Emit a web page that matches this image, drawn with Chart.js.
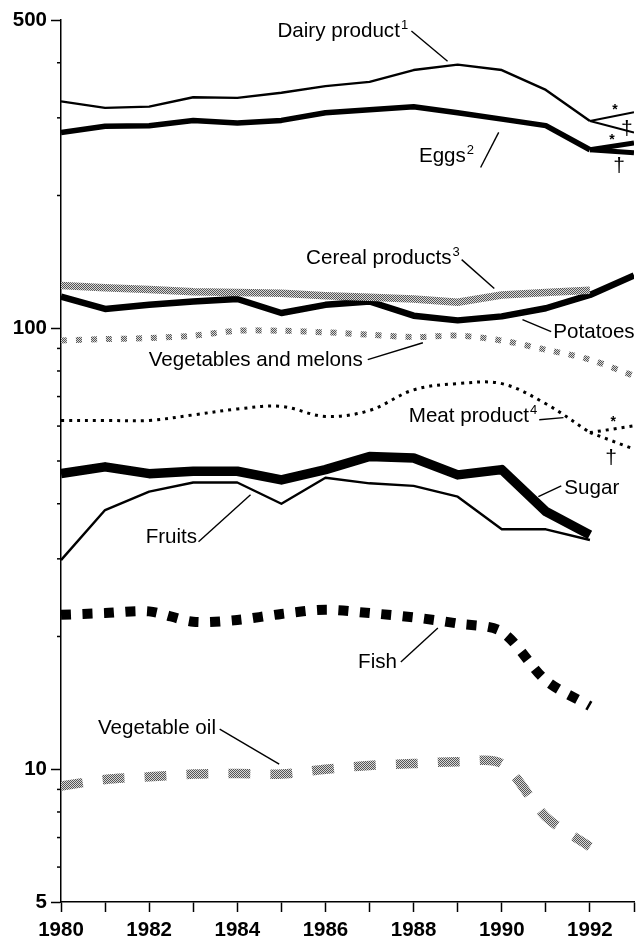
<!DOCTYPE html>
<html><head><meta charset="utf-8">
<script src="https://cdn.jsdelivr.net/npm/chart.js@4/dist/chart.umd.min.js"></script>
<style>html,body{margin:0;padding:0;background:#fff;}canvas{display:block;}</style>
</head><body>
<canvas id="c" width="640" height="939"></canvas>
<script>
// ---- data (log scale) ----
const years = [1980,1981,1982,1983,1984,1985,1986,1987,1988,1989,1990,1991,1992,1993];
const xLabels = [1980,1982,1984,1986,1988,1990,1992];
const yLabels = [5,10,100,500];
const yMinor = [6,7,8,9,20,30,40,50,60,70,80,90,200,300,400];

const dairy    = [327,316,318,334,333,342,354,362,385,396,385,347,295];      // 1980-1992
const dairy1993 = [309,278];   // [*, †]
const eggs     = [278,287,288,296,292,296,308,313,318,308,298,288,254];
const eggs1993  = [263,250];   // [*, †]
const cereal   = [125,123.5,122.5,121,120.5,120,118.5,117.5,116.5,114.5,119,120.5,122];
const potatoes = [118,110.6,113,115,116.5,108.3,113,115,106.8,104.2,106.4,111,119,131.7];
const vegMelon = [93.8,94.5,95,96.2,98.7,98.7,97.9,96.7,95.5,96.2,93.8,89.4,84.9,78];
const meat     = [61.8,61.8,61.8,63.6,65.6,66.5,63.1,65.1,72.5,74.9,74.9,67.4,58];
const meat1993  = [60.1,53.2]; // [*, †]
const sugar    = [46.8,48.5,46.8,47.4,47.4,45.3,47.8,51.2,50.8,46.5,47.8,38.4,34];
const fruits   = [29.8,38.7,42.6,44.7,44.7,40,45.8,44.5,43.9,41.5,35,35,33.1];
const fish     = [22.4,22.6,22.8,21.6,21.8,22.5,23,22.6,22.1,21.4,20.5,15.9,13.9];
const vegOil   = [9.16,9.48,9.61,9.75,9.78,9.75,10,10.2,10.3,10.4,10.3,7.8,6.67];

// ---- helpers ----
const pts = arr => arr.map((v,i)=>({x:years[i], y:v}));
const branch = (arr, end) => [{x:years[arr.length-1], y:arr[arr.length-1]}, {x:years[arr.length], y:end}];
const ctx = document.getElementById('c').getContext('2d');
function hatch(dark, light){
  const c=document.createElement('canvas'); c.width=2; c.height=2;
  const g=c.getContext('2d'); g.fillStyle=light; g.fillRect(0,0,2,2);
  g.fillStyle=dark; g.fillRect(0,0,1,1); g.fillRect(1,1,1,1);
  return ctx.createPattern(c,'repeat');
}
const grayPat = hatch('#555','#d8d8d8');
const FONT = '"Liberation Sans", Arial, Helvetica, sans-serif';

const solid = (data, w, color) => ({data, borderColor: color||'#000', borderWidth: w, tension: 0});

const datasets = [
  solid(pts(cereal), 7.5, grayPat),
  Object.assign(solid(pts(vegMelon), 6, grayPat), {borderDash:[6,9], tension:0.3}),
  Object.assign(solid(pts(vegOil), 9.5, grayPat), {borderDash:[22,20], tension:0.3}),
  solid(pts(dairy), 2.4), solid(branch(dairy, dairy1993[0]), 2), solid(branch(dairy, dairy1993[1]), 2),
  solid(pts(eggs), 5.5), solid(branch(eggs, eggs1993[0]), 5), solid(branch(eggs, eggs1993[1]), 5),
  solid(pts(potatoes), 6.5),
  Object.assign(solid(pts(meat), 3), {borderDash:[3,5], tension:0.35}),
  Object.assign(solid(branch(meat, meat1993[0]), 3), {borderDash:[3,5]}),
  Object.assign(solid(branch(meat, meat1993[1]), 3), {borderDash:[3,5]}),
  solid(pts(sugar), 9.5),
  solid(pts(fruits), 2.4),
  Object.assign(solid(pts(fish), 10), {borderDash:[10,11.5], tension:0.3}),
];

// annotations in data coordinates (year, value)
const notes = [
  {t:'Dairy product', sup:'1', at:[1984.91,475], line:[[1987.95,472],[1988.77,403]]},
  {t:'Eggs', sup:'2', at:[1988.12,248], line:[[1989.52,231.5],[1989.93,278]]},
  {t:'Cereal products', sup:'3', at:[1985.56,145.5], line:[[1989.09,143.1],[1989.83,123]]},
  {t:'Potatoes', at:[1991.17,98.6], line:[[1991.12,98.2],[1990.47,104.6]]},
  {t:'Vegetables and melons', at:[1981.99,85.3], line:[[1986.96,84.9],[1988.21,92.7]]},
  {t:'Meat product', sup:'4', at:[1987.89,63.6], line:[[1990.85,62.0],[1991.40,62.7]]},
  {t:'Sugar', at:[1991.42,43.7], line:[[1991.35,43.9],[1990.83,41.5]]},
  {t:'Fruits', at:[1981.92,33.8], line:[[1983.12,32.8],[1984.30,41.9]]},
  {t:'Fish', at:[1986.74,17.6], line:[[1987.71,17.5],[1988.55,20.9]]},
  {t:'Vegetable oil', at:[1980.84,12.5], line:[[1983.60,12.33],[1984.95,10.27]]},
];
const marks = [
  ['*',1992.57,318],['\u2020',1992.84,285],
  ['*',1992.50,272],['\u2020',1992.66,235],
  ['*',1992.53,62.3],['\u2020',1992.48,51.1],
];

const annot = {
  id:'annot',
  afterDraw(chart){
    const c=chart.ctx, xs=chart.scales.x, ys=chart.scales.y;
    const P=(a)=>[xs.getPixelForValue(a[0]), ys.getPixelForValue(a[1])];
    c.save();
    c.strokeStyle='#000'; c.lineWidth=1.5;
    yMinor.forEach(v=>{const y=ys.getPixelForValue(v); c.beginPath(); c.moveTo(xs.left-4,y); c.lineTo(xs.left,y); c.stroke();});
    c.fillStyle='#000'; c.textBaseline='alphabetic'; c.textAlign='left';
    notes.forEach(n=>{
      const [x,y]=P(n.at);
      c.font='20.6px '+FONT;
      const base=y+7.4;
      c.fillText(n.t,x,base);
      if(n.sup){const w=c.measureText(n.t).width; c.font='13px '+FONT; c.fillText(n.sup,x+w+1,base-8);}
      const a=P(n.line[0]), b=P(n.line[1]);
      c.lineWidth=1.4; c.beginPath(); c.moveTo(a[0],a[1]); c.lineTo(b[0],b[1]); c.stroke();
    });
    marks.forEach(m=>{
      const [x,y]=P([m[1],m[2]]);
      c.font=(m[0]==='*'?'bold 14px ':'21px ')+FONT; c.textAlign='center';
      const mt=c.measureText(m[0]);
      c.fillText(m[0], x, y+(mt.actualBoundingBoxAscent-mt.actualBoundingBoxDescent)/2);
    });
    c.restore();
  }
};

const tickFont = {family:FONT, size:20.5, weight:'bold'};
new Chart(ctx, {
  type:'line',
  data:{datasets},
  options:{
    responsive:false, animation:false, devicePixelRatio:1,
    layout:{padding:{top:20, right:4, left:0, bottom:0}},
    plugins:{legend:{display:false}, tooltip:{enabled:false}},
    elements:{point:{radius:0}, line:{borderCapStyle:'butt', borderJoinStyle:'round', fill:false}},
    scales:{
      x:{type:'linear', min:1980, max:1993,
        afterFit(s){s.height=37;},
        afterBuildTicks(s){s.ticks=years.map(v=>({value:v}));},
        ticks:{autoSkip:false, maxRotation:0, color:'#000', font:tickFont, padding:6,
          callback:v=>xLabels.includes(v)?String(v):''},
        grid:{drawOnChartArea:false, drawTicks:true, tickLength:10, tickColor:'#000', tickWidth:1.5},
        border:{color:'#000', width:1.5}},
      y:{type:'logarithmic', min:5, max:500,
        afterFit(s){s.width=61;},
        afterBuildTicks(s){s.ticks=yLabels.map(v=>({value:v}));},
        ticks:{color:'#000', font:tickFont, padding:4, callback:v=>String(v)},
        grid:{drawOnChartArea:false, drawTicks:true, tickLength:10, tickColor:'#000', tickWidth:1.5},
        border:{color:'#000', width:1.5}}
    }
  },
  plugins:[annot]
});
</script>
</body></html>
